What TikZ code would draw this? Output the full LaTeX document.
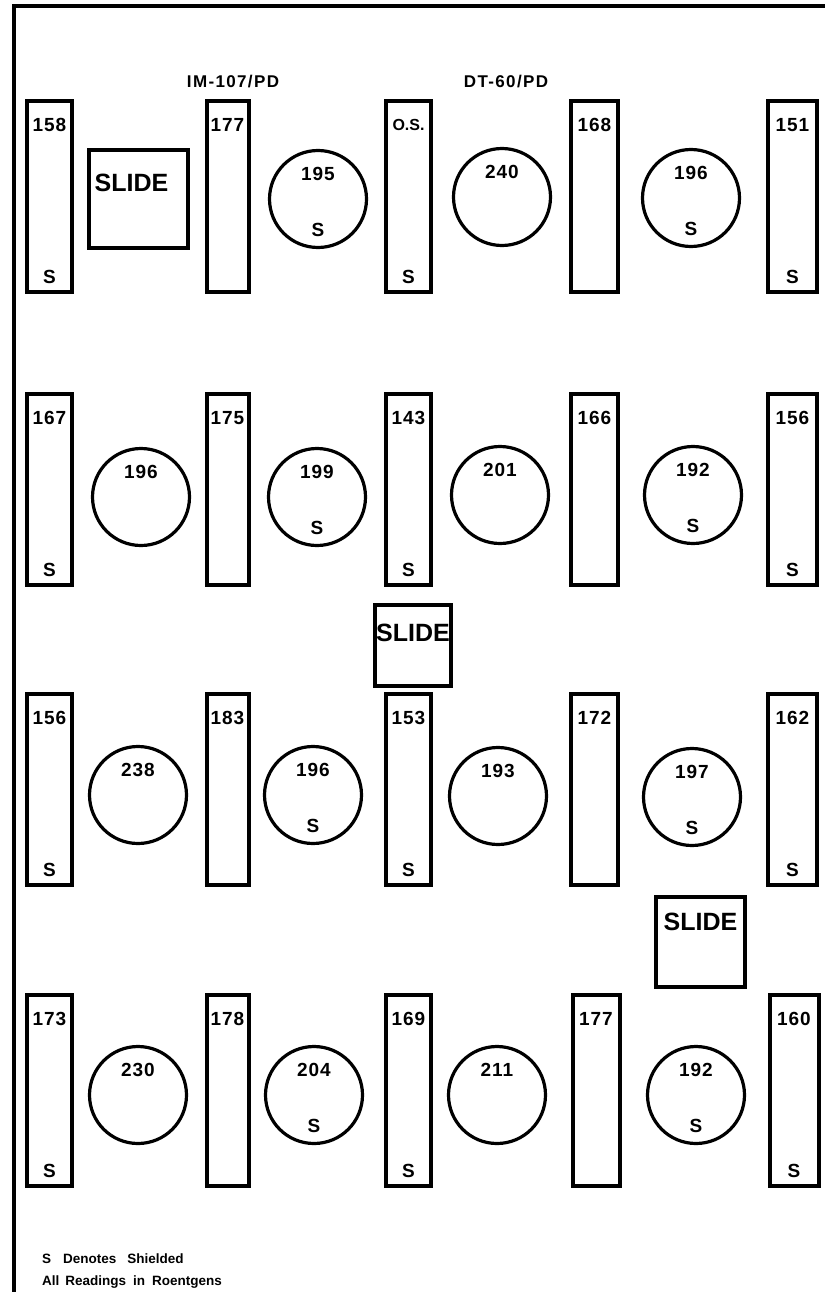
\documentclass[tikz,border=0pt]{standalone}
\usepackage{fontspec}
\setmainfont{Liberation Sans}
\begin{document}
\begin{tikzpicture}[
 x=1pt,y=-1pt,
 font=\bfseries,
 bar/.style={draw=black,line width=4pt,minimum width=#1,minimum height=191pt,inner sep=0pt},
 bar/.default=45pt,
 dial/.style={draw=black,circle,line width=3.2pt,minimum size=97pt,inner sep=0pt},
 slidebox/.style={draw=black,line width=3.7pt,inner sep=0pt},
 val/.style={inner sep=0pt,font=\bfseries\fontsize{19}{21}\selectfont\addfontfeatures{LetterSpace=5}},
 shd/.style={inner sep=0pt,font=\bfseries\fontsize{19}{21}\selectfont},
 slidetxt/.style={inner sep=0pt,font=\bfseries\fontsize{25}{27}\selectfont},
 model/.style={inner sep=0pt,font=\bfseries\fontsize{17}{19}\selectfont\addfontfeatures{LetterSpace=8}},
 note/.style={anchor=west,inner sep=0pt,font=\bfseries\fontsize{13.5}{15}\selectfont}]
\useasboundingbox (0,0) rectangle (825,1292);
\draw[line width=3.2pt] (14,1292) -- (14,6) -- (825,6);
% instrument labels
\node[model] (im) at (233,82) {IM-107/PD};
\node[model] (dt) at (506,82) {DT-60/PD};
% row 1
\node[bar] (b11) at (49.5,196.5) {}; \node[val] (v11) at ([yshift=-26pt]b11.north) {158}; \node[shd] (s11) at ([yshift=17pt]b11.south) {S};
\node[bar=42pt] (b12) at (227.5,196.5) {}; \node[val] (v12) at ([yshift=-26pt]b12.north) {177};
\node[bar] (b13) at (408.5,196.5) {}; \node[shd,font=\bfseries\fontsize{16}{18}\selectfont] (v13) at ([yshift=-26pt]b13.north) {O.S.}; \node[shd] (s13) at ([yshift=17pt]b13.south) {S};
\node[bar=47pt] (b14) at (594.5,196.5) {}; \node[val] (v14) at ([yshift=-26pt]b14.north) {168};
\node[bar=49pt] (b15) at (792.5,196.5) {}; \node[val] (v15) at ([yshift=-26pt]b15.north) {151}; \node[shd] (s15) at ([yshift=17pt]b15.south) {S};
\node[slidebox,minimum width=99pt,minimum height=98pt] (sl1) at (138.5,199) {}; \node[slidetxt] (sl1t) at ([xshift=-7pt,yshift=-35pt]sl1.north) {SLIDE};
\node[dial] (c12) at (318,199) {}; \node[val] (w12) at ([yshift=25pt]c12.center) {195}; \node[shd] (z12) at ([yshift=-31pt]c12.center) {S};
\node[dial] (c13) at (502,197) {}; \node[val] (w13) at ([yshift=25pt]c13.center) {240};
\node[dial] (c14) at (691,198) {}; \node[val] (w14) at ([yshift=25pt]c14.center) {196}; \node[shd] (z14) at ([yshift=-31pt]c14.center) {S};
% row 2
\node[bar] (b21) at (49.5,489.5) {}; \node[val] (v21) at ([yshift=-26pt]b21.north) {167}; \node[shd] (s21) at ([yshift=17pt]b21.south) {S};
\node[bar=42pt] (b22) at (227.5,489.5) {}; \node[val] (v22) at ([yshift=-26pt]b22.north) {175};
\node[bar] (b23) at (408.5,489.5) {}; \node[val] (v23) at ([yshift=-26pt]b23.north) {143}; \node[shd] (s23) at ([yshift=17pt]b23.south) {S};
\node[bar=47pt] (b24) at (594.5,489.5) {}; \node[val] (v24) at ([yshift=-26pt]b24.north) {166};
\node[bar=49pt] (b25) at (792.5,489.5) {}; \node[val] (v25) at ([yshift=-26pt]b25.north) {156}; \node[shd] (s25) at ([yshift=17pt]b25.south) {S};
\node[dial] (c21) at (141,497) {}; \node[val] (w21) at ([yshift=25pt]c21.center) {196};
\node[dial] (c22) at (317,497) {}; \node[val] (w22) at ([yshift=25pt]c22.center) {199}; \node[shd] (z22) at ([yshift=-31pt]c22.center) {S};
\node[dial] (c23) at (500,495) {}; \node[val] (w23) at ([yshift=25pt]c23.center) {201};
\node[dial] (c24) at (693,495) {}; \node[val] (w24) at ([yshift=25pt]c24.center) {192}; \node[shd] (z24) at ([yshift=-31pt]c24.center) {S};
\node[slidebox,minimum width=76pt,minimum height=81pt] (sl2) at (413,645.5) {}; \node[slidetxt] (sl2t) at ([yshift=-30pt]sl2.north) {SLIDE};
% row 3
\node[bar] (b31) at (49.5,789) {}; \node[val] (v31) at ([yshift=-26pt]b31.north) {156}; \node[shd] (s31) at ([yshift=17pt]b31.south) {S};
\node[bar=42pt] (b32) at (227.5,789) {}; \node[val] (v32) at ([yshift=-26pt]b32.north) {183};
\node[bar] (b33) at (408.5,789) {}; \node[val] (v33) at ([yshift=-26pt]b33.north) {153}; \node[shd] (s33) at ([yshift=17pt]b33.south) {S};
\node[bar=47pt] (b34) at (594.5,789) {}; \node[val] (v34) at ([yshift=-26pt]b34.north) {172};
\node[bar=49pt] (b35) at (792.5,789) {}; \node[val] (v35) at ([yshift=-26pt]b35.north) {162}; \node[shd] (s35) at ([yshift=17pt]b35.south) {S};
\node[dial] (c31) at (138,795) {}; \node[val] (w31) at ([yshift=25pt]c31.center) {238};
\node[dial] (c32) at (313,795) {}; \node[val] (w32) at ([yshift=25pt]c32.center) {196}; \node[shd] (z32) at ([yshift=-31pt]c32.center) {S};
\node[dial] (c33) at (498,796) {}; \node[val] (w33) at ([yshift=25pt]c33.center) {193};
\node[dial] (c34) at (692,797) {}; \node[val] (w34) at ([yshift=25pt]c34.center) {197}; \node[shd] (z34) at ([yshift=-31pt]c34.center) {S};
\node[slidebox,minimum width=89pt,minimum height=90pt] (sl3) at (700.5,942) {}; \node[slidetxt] (sl3t) at ([yshift=-27pt]sl3.north) {SLIDE};
% row 4
\node[bar] (b41) at (49.5,1090) {}; \node[val] (v41) at ([yshift=-26pt]b41.north) {173}; \node[shd] (s41) at ([yshift=17pt]b41.south) {S};
\node[bar=42pt] (b42) at (227.5,1090) {}; \node[val] (v42) at ([yshift=-26pt]b42.north) {178};
\node[bar] (b43) at (408.5,1090) {}; \node[val] (v43) at ([yshift=-26pt]b43.north) {169}; \node[shd] (s43) at ([yshift=17pt]b43.south) {S};
\node[bar=47pt] (b44) at (596,1090) {}; \node[val] (v44) at ([yshift=-26pt]b44.north) {177};
\node[bar=49pt] (b45) at (794,1090) {}; \node[val] (v45) at ([yshift=-26pt]b45.north) {160}; \node[shd] (s45) at ([yshift=17pt]b45.south) {S};
\node[dial] (c41) at (138,1095) {}; \node[val] (w41) at ([yshift=25pt]c41.center) {230};
\node[dial] (c42) at (314,1095) {}; \node[val] (w42) at ([yshift=25pt]c42.center) {204}; \node[shd] (z42) at ([yshift=-31pt]c42.center) {S};
\node[dial] (c43) at (497,1095) {}; \node[val] (w43) at ([yshift=25pt]c43.center) {211};
\node[dial] (c44) at (696,1095) {}; \node[val] (w44) at ([yshift=25pt]c44.center) {192}; \node[shd] (z44) at ([yshift=-31pt]c44.center) {S};
% legend
\node[note] (n1) at (42,1259) {S\hspace{12pt}Denotes\hspace{11pt}Shielded};
\node[note] (n2) at (42,1282) {All\hspace{6pt}Readings\hspace{7pt}in\hspace{7pt}Roentgens};
\end{tikzpicture}
\end{document}
